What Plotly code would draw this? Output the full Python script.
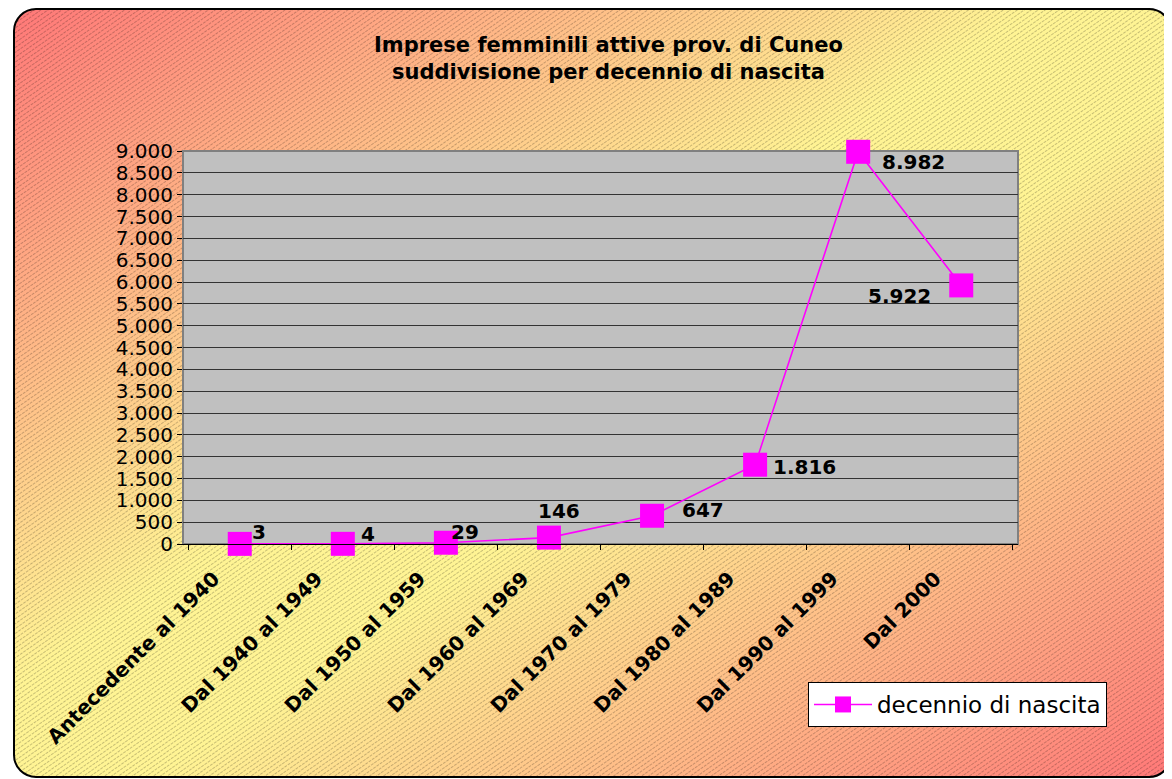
import base64
import plotly.graph_objects as go

# dati ----------------------------------------------------------------
categorie = ["Antecedente al 1940", "Dal 1940 al 1949", "Dal 1950 al 1959",
             "Dal 1960 al 1969", "Dal 1970 al 1979", "Dal 1980 al 1989",
             "Dal 1990 al 1999", "Dal 2000"]
imprese = [3, 4, 29, 146, 647, 1816, 8982, 5922]
serie_nome = "decennio di nascita"
titolo = "Imprese femminili attive prov. di Cuneo<br>suddivisione per decennio di nascita"

# geometria (coordinate del riferimento, la pagina ha 8px di margine)
OFF = 8
W, H = 1172 - OFF, 779 - OFF
L, T = 183 - OFF, 151 - OFF
R, B = 1172 - 1018, 779 - 544
PW, PH = W - L - R, H - T - B

# sfondo stile Excel: gradiente rosso/giallo + tratteggio + bordo arrotondato
svg = f"""<svg xmlns='http://www.w3.org/2000/svg' width='{W}' height='{H}' viewBox='0 0 {W} {H}' preserveAspectRatio='none'>
<defs>
<linearGradient id='g' x1='0' y1='0' x2='1' y2='1'>
<stop offset='0' stop-color='#ff7878'/>
<stop offset='0.44' stop-color='#fff494'/>
<stop offset='0.56' stop-color='#fff494'/>
<stop offset='1' stop-color='#ff7878'/>
</linearGradient>
<pattern id='h' width='4' height='4' patternUnits='userSpaceOnUse' patternTransform='rotate(-35)'>
<line x1='0' y1='0.5' x2='4' y2='0.5' stroke='#000' stroke-opacity='0.22' stroke-width='1' stroke-dasharray='2,1'/>
</pattern>
</defs>
<rect x='6' y='1' width='1157' height='768' rx='22' ry='22' fill='url(#g)'/>
<rect x='6' y='1' width='1157' height='768' rx='22' ry='22' fill='url(#h)' stroke='#000' stroke-width='2'/>
</svg>"""
sfondo = "data:image/svg+xml;base64," + base64.b64encode(svg.encode()).decode()

fig = go.Figure()
fig.add_trace(go.Scatter(
    x=categorie, y=imprese, mode="lines+markers", name=serie_nome,
    line=dict(color="#ff00ff", width=1.6),
    marker=dict(symbol="square", size=24, color="#ff00ff"),
    cliponaxis=False))

# etichette dati (spostamenti come nell'originale)
spost = [(19, 12), (25, 10), (19, 11), (10, 27), (51, 6), (49, -2), (55, -10), (-62, -11)]
for c, v, (dx, dy) in zip(categorie, imprese, spost):
    fig.add_annotation(x=c, y=v, text=f"{v:,}".replace(",", "."), showarrow=False,
                       xshift=dx, yshift=dy,
                       font=dict(family="DejaVu Sans", size=20, color="black", weight="bold"))

fig.add_annotation(text=titolo, xref="paper", yref="paper",
                   x=(608 - 183) / PW, y=1 + (151 - 59) / PH, showarrow=False,
                   xanchor="center", yanchor="middle",
                   font=dict(family="DejaVu Sans", size=21, color="black", weight="bold"))

fig.add_layout_image(source=sfondo, xref="paper", yref="paper",
                     x=-L / PW, y=1 + T / PH, sizex=W / PW, sizey=H / PH,
                     sizing="stretch", xanchor="left", yanchor="top", layer="below")
fig.add_shape(type="rect", xref="paper", yref="paper", x0=0, x1=1, y0=0, y1=1,
              fillcolor="#c0c0c0", line=dict(color="#808080", width=2), layer="below")

fig.update_layout(
    width=W, height=H, margin=dict(l=L, r=R, t=T, b=B),
    paper_bgcolor="white", plot_bgcolor="rgba(0,0,0,0)",
    separators=",.", showlegend=True,
    font=dict(family="DejaVu Sans", color="black"),
    legend=dict(x=(808 - 183) / PW, y=-(682 - 544) / PH, xanchor="left", yanchor="top",
                bgcolor="white", bordercolor="black", borderwidth=1, itemwidth=58,
                font=dict(size=23, family="DejaVu Sans")),
)
fig.update_xaxes(type="category", tickson="boundaries", ticks="outside", ticklen=5,
                 tickcolor="black", tickangle=-45, showgrid=False,
                 ticklabelshift=-26, ticklabelstandoff=14,
                 showline=True, linecolor="black", linewidth=1,
                 tickfont=dict(size=20, family="DejaVu Sans", weight="bold"))
fig.update_yaxes(range=[0, 9000], dtick=500, tickformat=",d", ticks="outside",
                 ticklen=5, tickcolor="black", showgrid=True, gridcolor="#333333",
                 gridwidth=1, zeroline=False, showline=True, linecolor="#808080",
                 tickfont=dict(size=20, family="DejaVu Sans"))

fig.write_html("out.html")
